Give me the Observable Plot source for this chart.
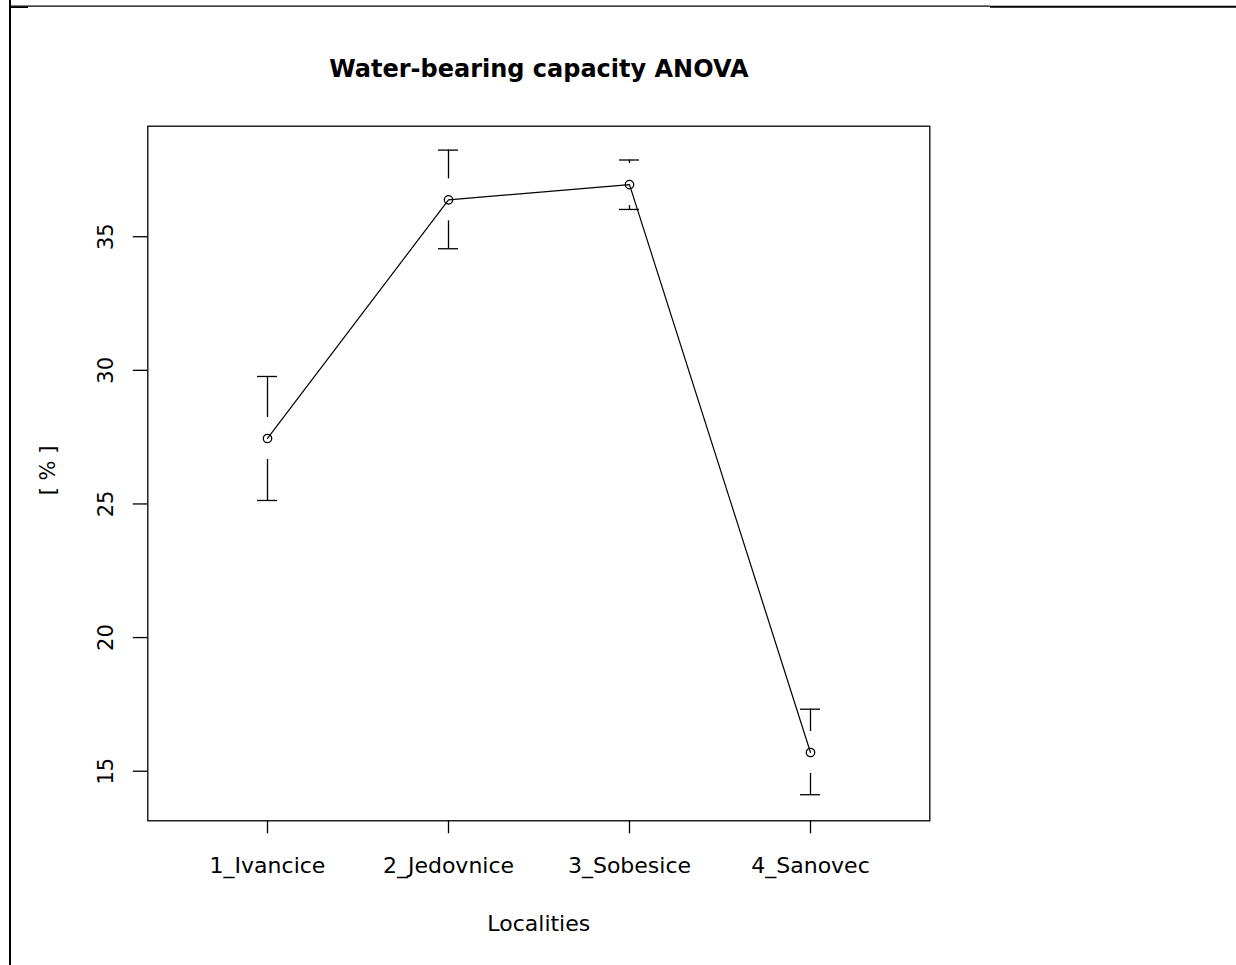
<!DOCTYPE html>
<html><head><meta charset="utf-8">
<script src="https://cdn.jsdelivr.net/npm/d3@7"></script>
<script src="https://cdn.jsdelivr.net/npm/@observablehq/plot@0.6"></script>
<style>html,body{margin:0;padding:0;background:#fff;} #chart{position:relative;width:1236px;height:965px;}</style>
</head><body><div id="chart"></div>
<script>
const localities = ["1_Ivancice", "2_Jedovnice", "3_Sobesice", "4_Sanovec"];
const means = [27.45, 36.38, 36.95, 15.70];
const upper = [29.77, 38.24, 37.87, 17.32];
const lower = [25.13, 34.55, 36.02, 14.12];
const yTicks = [15, 20, 25, 30, 35];
const titleText = "Water-bearing capacity ANOVA";
const xLabelText = "Localities";
const yLabelText = "[ % ]";

const rows = localities.map((name, i) => ({name, mean: means[i], upper: upper[i], lower: lower[i]}));
const font = "DejaVu Sans";
const ink = "black";

const chart = Plot.plot({
  width: 1236,
  height: 965,
  marginLeft: 147.3,
  marginRight: 306.7,
  marginTop: 125.7,
  marginBottom: 144.7,
  style: {fontFamily: font, fontSize: "22px", background: "white", color: ink},
  x: {type: "band", domain: localities, paddingInner: 0.89, paddingOuter: 0.5945},
  y: {domain: [13.144, 39.135]},
  marks: [
    Plot.frame({stroke: ink, strokeWidth: 1.3}),
    Plot.axisY({ticks: yTicks, tickSize: 14.5, tickPadding: 20.5, tickRotate: -90, label: null, strokeWidth: 1.3, fontSize: 21}),
    Plot.axisX({tickSize: 13, tickPadding: 23.4, label: null, strokeWidth: 1.3, fontSize: 22}),
    Plot.ruleX(rows, {x: "name", y1: "upper", y2: "mean", insetBottom: 21, stroke: ink, strokeWidth: 1.3}),
    Plot.ruleX(rows, {x: "name", y1: "mean", y2: "lower", insetTop: 21, stroke: ink, strokeWidth: 1.3}),
    Plot.tickY(rows, {x: "name", y: "upper", stroke: ink, strokeWidth: 1.3}),
    Plot.tickY(rows, {x: "name", y: "lower", stroke: ink, strokeWidth: 1.3}),
    Plot.line(rows, {x: "name", y: "mean", stroke: ink, strokeWidth: 1.2}),
    Plot.dot(rows, {x: "name", y: "mean", r: 4.2, stroke: ink, strokeWidth: 1.3, fill: "none"}),
    Plot.text([titleText], {text: d => d, frameAnchor: "top", dy: -49, lineAnchor: "bottom", textAnchor: "middle", fontWeight: "bold", fontSize: 24, fontFamily: font, fill: ink}),
    Plot.text([xLabelText], {text: d => d, frameAnchor: "bottom", dy: 110, lineAnchor: "bottom", textAnchor: "middle", fontSize: 22, fontFamily: font, fill: ink}),
    Plot.text([yLabelText], {text: d => d, frameAnchor: "left", dx: -93, dy: -3, rotate: -90, lineAnchor: "bottom", textAnchor: "middle", fontSize: 21, fontFamily: font, fill: ink})
  ]
});

// page border decoration (not data)
const deco = d3.select(chart).append("g").attr("stroke", "black").attr("fill", "none");
deco.append("line").attr("x1", 10).attr("x2", 10).attr("y1", 0).attr("y2", 965).attr("stroke-width", 2);
deco.append("line").attr("x1", 10).attr("x2", 990).attr("y1", 6.2).attr("y2", 6.2).attr("stroke-width", 1.2);
deco.append("line").attr("x1", 990).attr("x2", 1236).attr("y1", 6.7).attr("y2", 6.7).attr("stroke-width", 2);
deco.append("line").attr("x1", 10).attr("x2", 28).attr("y1", 7.2).attr("y2", 7.2).attr("stroke-width", 1.6);

document.getElementById("chart").appendChild(chart);
</script>
</body></html>
